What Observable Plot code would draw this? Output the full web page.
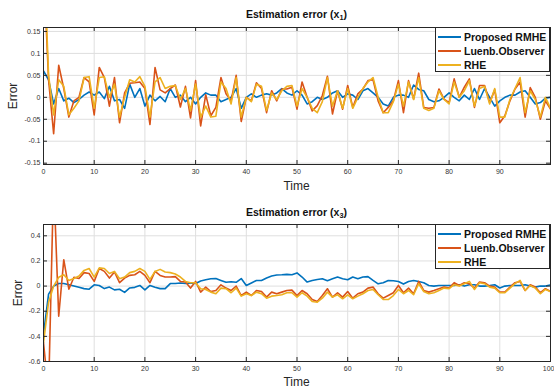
<!DOCTYPE html>
<html>
<head>
<meta charset="utf-8">
<script src="https://cdn.jsdelivr.net/npm/d3@7"></script>
<script src="https://cdn.jsdelivr.net/npm/@observablehq/plot@0.6"></script>
<style>
  body { margin: 0; background: #fff; }
  #wrap { position: relative; width: 554px; height: 389px; font-family: "Liberation Sans", Arial, sans-serif; color: #262626; overflow: hidden; }
  .plot { position: absolute; left: 0; }
  .title { position: absolute; left: 43px; width: 507px; text-align: center; font-weight: bold; font-size: 10.5px; line-height: 12px; color: #111; }
  .title sub { font-size: 0.7em; vertical-align: -0.3em; line-height: 0; }
  .xlab { position: absolute; left: 43px; width: 507px; text-align: center; font-size: 12px; line-height: 14px; color: #262626; }
  .ylab { position: absolute; font-size: 12px; line-height: 14px; color: #262626; transform: translate(-50%, -50%) rotate(-90deg); white-space: nowrap; }
  .legend { position: absolute; background: #fff; border: 1px solid #262626; box-sizing: border-box; }
  .row { position: absolute; left: 1px; height: 14px; font-weight: bold; font-size: 10.5px; line-height: 14px; color: #111; white-space: nowrap; }
  .sw { position: absolute; left: 1px; top: 6px; width: 23px; height: 2px; }
  .row span.t { position: absolute; left: 27px; top: 0; }
</style>
</head>
<body>
<div id="wrap">
  <div class="title" style="top:8px">Estimation error (x<sub>1</sub>)</div>
  <div class="title" style="top:206px">Estimation error (x<sub>3</sub>)</div>
  <div class="plot" id="p1" style="top:0"></div>
  <div class="plot" id="p2" style="top:195px"></div>
  <div class="xlab" style="top:179px">Time</div>
  <div class="xlab" style="top:375px">Time</div>
  <div class="ylab" style="left:13px;top:96px">Error</div>
  <div class="ylab" style="left:18px;top:293px">Error</div>
  <div class="legend" id="leg1" style="left:435px;top:27px;width:115px;height:45px"></div>
  <div class="legend" id="leg2" style="left:435px;top:224px;width:115px;height:45px"></div>
</div>
<script>
// ---------- data ----------
const seriesNames = ["Proposed RMHE", "Luenb.Observer", "RHE"];
const seriesColors = ["#0072BD", "#D95319", "#EDB120"];

const xTicksTop = [0, 10, 20, 30, 40, 50, 60, 70, 80, 90];
const xTicksBottom = [0, 10, 20, 30, 40, 50, 60, 70, 80, 90, 100];
const yTicksTop = [-0.15, -0.1, -0.05, 0, 0.05, 0.1, 0.15];
const yTicksBottom = [-0.6, -0.4, -0.2, 0, 0.2, 0.4];

// Estimation error x1
const rmheX1 = [0.06,0.04,-0.015,0.02,-0.008,-0.002,-0.012,-0.005,0.005,0.012,0.005,0.012,-0.003,0.025,-0.008,-0.005,-0.025,0.03,0.0,0.02,-0.02,0.005,-0.008,0.002,-0.01,0.02,0.0,0.005,-0.01,0.0,-0.015,0.0,0.01,0.005,0.005,-0.01,-0.005,0.0,0.02,-0.025,0.0,0.008,0.0,0.005,0.008,0.005,0.01,0.02,0.01,0.005,0.015,0.005,-0.015,-0.01,0.0,-0.005,0.0,0.01,0.015,0.0,0.008,0.005,-0.005,0.015,0.02,0.01,0.0,-0.015,-0.02,0.0,0.005,0.005,0.0,0.028,0.018,0.015,-0.005,-0.01,-0.008,0.0,0.01,0.0,-0.008,0.005,-0.005,0.02,-0.005,0.02,0.0,-0.02,-0.008,0.0,0.005,0.005,0.012,0.015,0.0,-0.015,-0.012,-0.002,0.0];
const luenX1 = [0.3,0.04,-0.083,0.073,0.02,-0.045,-0.008,0.0,0.045,0.035,-0.04,0.068,0.045,-0.02,0.045,-0.058,0.01,0.032,0.033,0.035,0.02,-0.062,0.068,0.017,0.01,0.02,0.028,-0.022,0.025,-0.047,0.038,-0.065,0.006,-0.042,-0.023,0.045,0.008,-0.008,0.05,-0.055,0.0,-0.008,0.033,0.02,-0.035,0.015,-0.008,0.019,0.019,0.023,-0.027,0.035,0.0,-0.031,-0.019,0.004,0.048,-0.038,0.015,-0.027,0.027,-0.023,0.008,0.019,0.038,0.04,-0.008,-0.035,-0.023,-0.008,0.038,-0.035,0.038,-0.004,0.055,-0.023,-0.025,-0.023,0.019,-0.004,-0.012,0.042,0.0,0.023,0.042,-0.023,0.027,0.027,-0.012,0.017,-0.058,-0.042,-0.008,0.019,0.035,-0.045,0.022,0.0,-0.05,-0.008,-0.027];
const rheX1 = [0.35,0.05,-0.04,0.04,0.025,-0.04,-0.025,-0.008,0.045,0.047,-0.025,0.045,0.047,0.0,0.03,-0.045,0.0,0.04,0.035,0.047,0.025,-0.045,0.035,0.045,0.02,0.025,0.027,-0.005,0.02,-0.03,0.03,-0.045,-0.02,-0.045,-0.043,0.035,0.02,-0.015,0.045,-0.045,0.0,-0.01,0.03,0.025,-0.03,0.01,-0.005,0.015,0.025,0.027,-0.02,0.02,0.0,-0.025,-0.035,-0.01,0.045,-0.02,0.015,-0.025,0.02,-0.025,0.0,0.02,0.035,0.045,0.0,-0.035,-0.035,-0.01,0.03,-0.02,0.035,-0.005,0.045,-0.025,-0.03,-0.025,0.015,-0.005,-0.015,0.035,0.0,0.015,0.038,-0.02,0.02,0.025,-0.015,0.02,-0.045,-0.045,-0.005,0.02,0.045,-0.035,0.015,-0.005,-0.045,0.0,-0.025];

// Estimation error x3
const rmheX3 = [-0.38,-0.064,0.0,0.02,0.02,0.01,0.0,-0.01,-0.02,-0.025,0.01,0.005,-0.02,-0.008,-0.03,-0.025,-0.05,-0.015,-0.01,0.005,-0.03,0.005,-0.01,-0.02,-0.02,0.02,0.02,0.025,0.02,0.025,0.02,0.04,0.05,0.058,0.06,0.045,0.03,0.035,0.03,0.06,0.005,0.025,0.045,0.045,0.065,0.08,0.088,0.09,0.093,0.09,0.105,0.072,0.032,0.045,0.053,0.058,0.043,0.058,0.072,0.058,0.05,0.072,0.058,0.072,0.075,0.045,0.018,0.027,0.045,0.043,0.037,0.016,0.037,0.045,0.037,0.027,0.005,0.0,0.005,0.005,0.005,0.005,0.011,0.0,0.011,0.011,0.0,0.0,0.005,0.011,-0.015,0.0,0.005,0.005,0.005,0.011,0.0,-0.008,0.0,0.0,0.01];
const luenX3 = [-0.45,-0.85,0.85,-0.24,0.21,-0.025,0.07,0.06,0.107,0.1,0.037,0.14,0.117,0.064,0.112,0.027,0.064,0.085,0.09,0.117,0.085,0.027,0.117,0.085,0.072,0.072,0.075,0.037,0.032,-0.016,0.037,-0.048,-0.008,-0.043,-0.035,0.01,-0.016,-0.035,0.0,-0.075,-0.048,-0.075,-0.035,-0.043,-0.088,-0.048,-0.061,-0.048,-0.035,-0.032,-0.075,-0.035,-0.061,-0.107,-0.123,-0.075,-0.021,-0.088,-0.053,-0.088,-0.043,-0.096,-0.061,-0.048,-0.016,-0.008,-0.061,-0.096,-0.075,-0.053,0.005,-0.053,-0.016,-0.061,0.037,-0.035,-0.048,-0.035,-0.021,-0.008,-0.016,0.027,0.005,0.027,0.019,-0.016,0.032,0.027,0.0,-0.008,-0.048,-0.048,-0.008,0.027,0.037,-0.035,0.011,-0.008,-0.053,-0.021,-0.043];
const rheX3 = [-0.45,-0.13,0.0,0.07,0.09,0.045,0.06,0.08,0.125,0.14,0.072,0.145,0.14,0.1,0.117,0.058,0.072,0.107,0.117,0.14,0.117,0.053,0.117,0.133,0.112,0.107,0.096,0.072,0.037,0.027,0.027,-0.021,-0.027,-0.048,-0.061,-0.016,-0.021,-0.053,-0.016,-0.08,-0.061,-0.075,-0.048,-0.061,-0.096,-0.08,-0.075,-0.069,-0.053,-0.053,-0.088,-0.053,-0.08,-0.123,-0.128,-0.096,-0.048,-0.088,-0.069,-0.101,-0.069,-0.101,-0.08,-0.061,-0.035,-0.027,-0.069,-0.107,-0.107,-0.075,-0.027,-0.061,-0.035,-0.069,0.019,-0.043,-0.061,-0.053,-0.035,-0.016,-0.021,0.011,0.0,0.019,0.037,-0.027,0.027,0.019,-0.008,-0.016,-0.053,-0.053,-0.016,0.019,0.045,-0.035,0.005,-0.016,-0.061,-0.027,-0.043];

const time = Array.from({length: 101}, (_, i) => i);

// ---------- drawing ----------
function toRows(vals) { return vals.map((v, i) => ({t: time[i], v})); }

function makePlot({series, yDomain, yTicks, xTicks, height, mt, mb}) {
  const W = 554, ml = 43, mr = 4;
  const ph = height - mt - mb, pw = W - ml - mr;
  const tl = 4;
  const fmt = d => (d === 0 ? "0" : String(d));
  const lines = series.map((vals, k) =>
    Plot.line(toRows(vals), {x: "t", y: "v", stroke: seriesColors[k], strokeWidth: 1.6, clip: true})
  );
  const inner = xTicks.filter(d => d < 100);
  const edge = xTicks.filter(d => d >= 100);
  return Plot.plot({
    width: W, height,
    marginLeft: ml, marginRight: mr, marginTop: mt, marginBottom: mb,
    x: {domain: [0, 100]},
    y: {domain: yDomain},
    style: {fontFamily: "'Liberation Sans', Arial, sans-serif", fontSize: "7px", color: "#333", background: "transparent"},
    marks: [
      Plot.gridX(xTicks, {stroke: "#dfdfdf", strokeOpacity: 1}),
      Plot.gridY(yTicks, {stroke: "#dfdfdf", strokeOpacity: 1}),
      Plot.axisX(inner, {tickSize: 0, tickPadding: 5, label: null, tickFormat: fmt, fontSize: 7}),
      Plot.axisX(edge, {tickSize: 0, tickPadding: 5, label: null, tickFormat: fmt, fontSize: 7, textAnchor: "end", dx: 4}),
      Plot.axisY(yTicks, {tickSize: 0, tickPadding: 3, label: null, tickFormat: fmt, fontSize: 7}),
      ...lines,
      // inward ticks (MATLAB box style)
      Plot.ruleX(xTicks, {x: d => d, insetBottom: ph - tl, stroke: "#262626"}),
      Plot.ruleX(xTicks, {x: d => d, insetTop: ph - tl, stroke: "#262626"}),
      Plot.ruleY(yTicks, {y: d => d, insetRight: pw - tl, stroke: "#262626"}),
      Plot.ruleY(yTicks, {y: d => d, insetLeft: pw - tl, stroke: "#262626"}),
      Plot.frame({stroke: "#262626", strokeWidth: 1})
    ]
  });
}

document.getElementById("p1").appendChild(makePlot({
  series: [rmheX1, luenX1, rheX1],
  yDomain: [-0.153, 0.159], yTicks: yTicksTop, xTicks: xTicksTop,
  height: 195, mt: 27, mb: 31
}));
document.getElementById("p2").appendChild(makePlot({
  series: [rmheX3, luenX3, rheX3],
  yDomain: [-0.6, 0.49], yTicks: yTicksBottom, xTicks: xTicksBottom,
  height: 194, mt: 29, mb: 28
}));

function buildLegend(id) {
  const el = document.getElementById(id);
  seriesNames.forEach((name, k) => {
    const row = document.createElement("div");
    row.className = "row";
    row.style.top = (2 + k * 14.2) + "px";
    row.style.width = "110px";
    const sw = document.createElement("div");
    sw.className = "sw";
    sw.style.background = seriesColors[k];
    const t = document.createElement("span");
    t.className = "t";
    t.textContent = name;
    row.appendChild(sw);
    row.appendChild(t);
    el.appendChild(row);
  });
}
buildLegend("leg1");
buildLegend("leg2");
</script>
</body>
</html>
